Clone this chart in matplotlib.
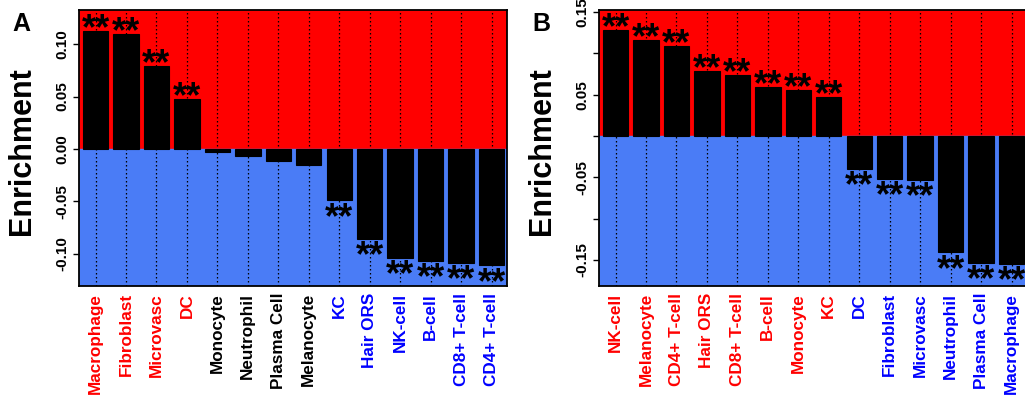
import numpy as np
import matplotlib
matplotlib.use("Agg")
import matplotlib.pyplot as plt

plt.rcParams['font.family'] = ['Liberation Sans', 'DejaVu Sans']
plt.rcParams['font.weight'] = 'bold'

# panel A data
cells_a = ['Macrophage', 'Fibroblast', 'Microvasc', 'DC', 'Monocyte', 'Neutrophil',
           'Plasma Cell', 'Melanocyte', 'KC', 'Hair ORS', 'NK-cell', 'B-cell',
           'CD8+ T-cell', 'CD4+ T-cell']
enrich_a = [0.113, 0.110, 0.079, 0.048, -0.003, -0.007, -0.011, -0.015,
            -0.049, -0.086, -0.104, -0.107, -0.109, -0.111]
signif_a = [1, 1, 1, 1, 0, 0, 0, 0, 1, 1, 1, 1, 1, 1]
lab_col_a = ['red'] * 4 + ['black'] * 4 + ['blue'] * 6

# panel B data
cells_b = ['NK-cell', 'Melanocyte', 'CD4+ T-cell', 'Hair ORS', 'CD8+ T-cell', 'B-cell',
           'Monocyte', 'KC', 'DC', 'Fibroblast', 'Microvasc', 'Neutrophil',
           'Plasma Cell', 'Macrophage']
enrich_b = [0.128, 0.116, 0.109, 0.079, 0.074, 0.059, 0.056, 0.047,
            -0.040, -0.052, -0.053, -0.141, -0.154, -0.155]
signif_b = [1] * 14
lab_col_b = ['red'] * 8 + ['blue'] * 6

RED = '#FF0000'
BLUE = '#4A7CF6'
STAR_FS = 26


def draw_panel(ax, cells, vals, signif, cols, ylim, yticks, ylabels):
    x = 0.7 + 1.2 * np.arange(len(cells))
    ax.set_xlim(0.06, 16.9)
    ax.set_ylim(*ylim)
    ax.axhspan(0, ylim[1], color=RED, zorder=0)
    ax.axhspan(ylim[0], 0, color=BLUE, zorder=0)
    for xi in x:
        ax.axvline(xi, color='black', ls=(0, (1.2, 2.0)), lw=0.9, zorder=1)
    ax.bar(x, vals, width=1.0, color='black', edgecolor='black', lw=0.8, zorder=2)
    for xi, v, s in zip(x, vals, signif):
        if not s:
            continue
        if v > 0:
            off = -0.23 * STAR_FS
        else:
            off = -(0.72 * STAR_FS + 1.0)
        ax.annotate('**', (xi, v), xytext=(0, off), textcoords='offset points',
                    ha='center', va='baseline', fontsize=STAR_FS,
                    fontweight='bold', zorder=3)
    ax.set_xticks(x)
    ax.set_xticklabels(cells, rotation=90, fontsize=12.3, fontweight='bold')
    for t, c in zip(ax.get_xticklabels(), cols):
        t.set_color(c)
    ax.tick_params(axis='x', length=0, pad=5)
    ax.set_yticks(yticks)
    ax.set_yticklabels(ylabels, rotation=90, va='center', fontsize=11, fontweight='bold')
    ax.tick_params(axis='y', length=4, width=1, direction='out', pad=3)
    for sp in ax.spines.values():
        sp.set_linewidth(1.3)
        sp.set_zorder(5)
    ax.set_ylabel('Enrichment', fontsize=22, fontweight='bold')


fig = plt.figure(figsize=(10.25, 4.01), dpi=100)
ax1 = fig.add_axes([0.0774, 0.2868, 0.417, 0.6883])
ax2 = fig.add_axes([0.5847, 0.2868, 0.417, 0.6883])

draw_panel(ax1, cells_a, enrich_a, signif_a, lab_col_a, (-0.1307, 0.1326),
           [-0.10, -0.05, 0.0, 0.05, 0.10],
           ['-0.10', '-0.05', '0.00', '0.05', '0.10'])
draw_panel(ax2, cells_b, enrich_b, signif_b, lab_col_b, (-0.1816, 0.1525),
           [-0.15, -0.10, -0.05, 0.0, 0.05, 0.10, 0.15],
           ['-0.15', '', '-0.05', '', '0.05', '', '0.15'])
ax1.yaxis.set_label_coords(-0.099, 0.49)
ax2.yaxis.set_label_coords(-0.0997, 0.49)

fig.text(12 / 1025, 1 - 12 / 401, 'A', fontsize=18, fontweight='bold', va='top', ha='left')
fig.text(532 / 1025, 1 - 12 / 401, 'B', fontsize=18, fontweight='bold', va='top', ha='left')

fig.savefig('out.png', dpi=100)
